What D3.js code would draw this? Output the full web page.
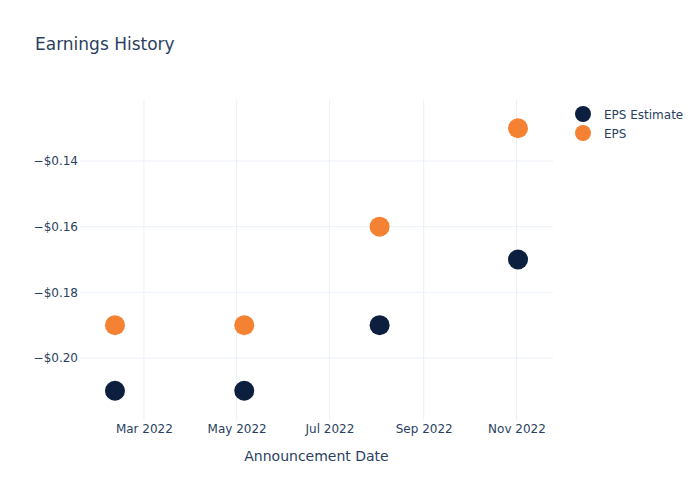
<!DOCTYPE html>
<html>
<head>
<meta charset="utf-8">
<script src="https://cdn.jsdelivr.net/npm/d3@7"></script>
<style>
body { margin: 0; background: #fff; }
svg { font-family: "DejaVu Sans", Verdana, sans-serif; }
</style>
</head>
<body>
<svg id="chart"></svg>
<script>
var width = 700;
var height = 500;

// data
var dates = ["2022-02-10", "2022-05-06", "2022-08-03", "2022-11-02"];
var epsEstimate = [-0.21, -0.21, -0.19, -0.17];
var eps = [-0.19, -0.19, -0.16, -0.13];
var yTicks = [-0.20, -0.18, -0.16, -0.14];
var seriesNames = ["EPS Estimate", "EPS"];
var seriesColors = ["#0c1f3f", "#f58233"];

var margin = {top: 100, right: 147, bottom: 80, left: 80};
var textColor = "#2a3f5f";
var gridColor = "#ebf0f8";

var parse = d3.timeParse("%Y-%m-%d");

var svg = d3.select("#chart")
    .attr("width", width)
    .attr("height", height);

var x = d3.scaleTime()
    .domain([parse("2022-01-18"), parse("2022-11-25")])
    .range([margin.left, width - margin.right]);

var y = d3.scaleLinear()
    .domain([-0.2189, -0.1214])
    .range([height - margin.bottom, margin.top]);

// grid
var xTicks = [parse("2022-03-01"), parse("2022-05-01"), parse("2022-07-01"), parse("2022-09-01"), parse("2022-11-01")];

svg.append("g")
    .selectAll("line")
    .data(xTicks)
    .enter()
    .append("line")
    .attr("x1", function(d) { return x(d); })
    .attr("x2", function(d) { return x(d); })
    .attr("y1", margin.top)
    .attr("y2", height - margin.bottom)
    .attr("stroke", gridColor)
    .attr("stroke-width", 1);

svg.append("g")
    .selectAll("line")
    .data(yTicks)
    .enter()
    .append("line")
    .attr("x1", margin.left)
    .attr("x2", width - margin.right)
    .attr("y1", function(d) { return y(d); })
    .attr("y2", function(d) { return y(d); })
    .attr("stroke", gridColor)
    .attr("stroke-width", 1);

// axes
var xAxis = d3.axisBottom(x)
    .tickValues(xTicks)
    .tickFormat(d3.timeFormat("%b %Y"))
    .tickSize(0)
    .tickPadding(4);

var gx = svg.append("g")
    .attr("transform", "translate(0," + (height - margin.bottom) + ")")
    .call(xAxis);

var yAxis = d3.axisLeft(y)
    .tickValues(yTicks)
    .tickFormat(d3.format("$.2f"))
    .tickSize(0)
    .tickPadding(2);

var gy = svg.append("g")
    .attr("transform", "translate(" + margin.left + ",0)")
    .call(yAxis);

[gx, gy].forEach(function(g) {
    g.select(".domain").remove();
    g.selectAll("text")
        .attr("fill", textColor)
        .style("font-size", "12px")
        .style("font-family", "'DejaVu Sans', Verdana, sans-serif");
});

// points
var series = [epsEstimate, eps];

series.forEach(function(values, i) {
    svg.append("g")
        .selectAll("circle")
        .data(values)
        .enter()
        .append("circle")
        .attr("cx", function(d, j) { return x(parse(dates[j])); })
        .attr("cy", function(d) { return y(d); })
        .attr("r", 10)
        .attr("fill", seriesColors[i]);
});

// title
svg.append("text")
    .attr("x", 35)
    .attr("y", 50)
    .attr("fill", textColor)
    .style("font-size", "17px")
    .text("Earnings History");

// x title
svg.append("text")
    .attr("x", (margin.left + width - margin.right) / 2)
    .attr("y", 461)
    .attr("text-anchor", "middle")
    .attr("fill", textColor)
    .style("font-size", "14px")
    .text("Announcement Date");

// legend
var legend = svg.append("g")
    .selectAll("g")
    .data(seriesNames)
    .enter()
    .append("g")
    .attr("transform", function(d, i) { return "translate(583," + (114 + i * 19) + ")"; });

legend.append("circle")
    .attr("r", 8)
    .attr("fill", function(d, i) { return seriesColors[i]; });

legend.append("text")
    .attr("x", 21)
    .attr("y", 4.5)
    .attr("fill", textColor)
    .style("font-size", "12px")
    .text(function(d) { return d; });
</script>
</body>
</html>
